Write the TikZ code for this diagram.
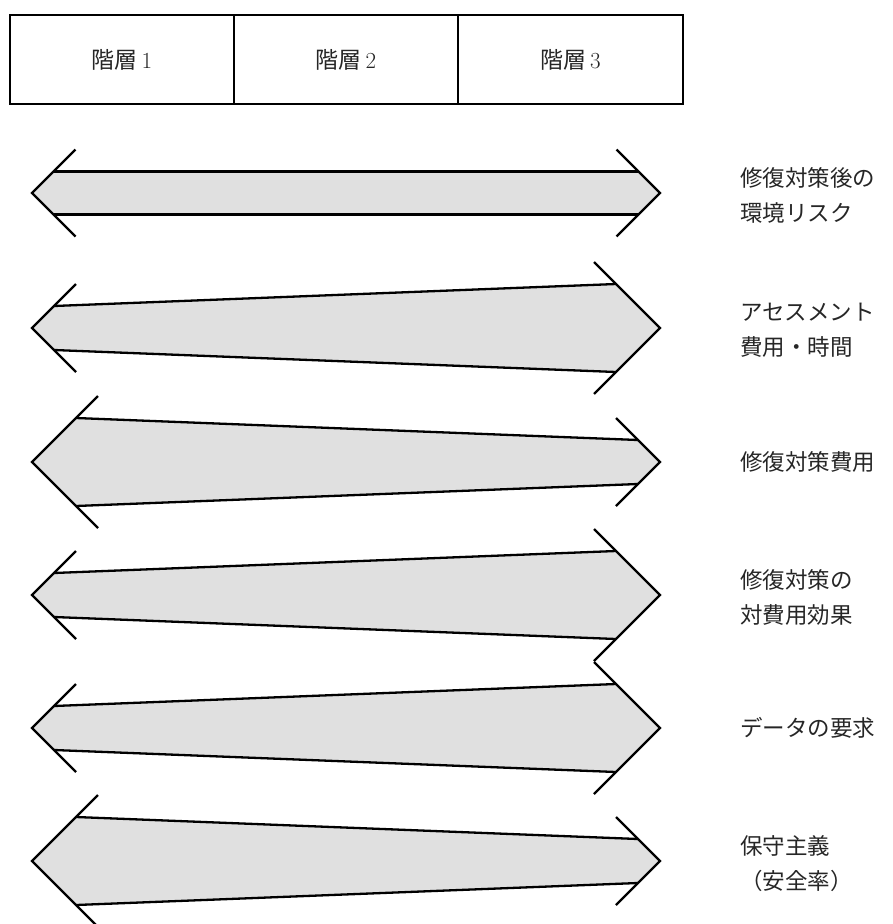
\documentclass[tikz,border=0pt]{standalone}
\usepackage{fontspec}
\newfontfamily\cjk{Noto Sans CJK JP}
\begin{document}
\begin{tikzpicture}[x=1pt,y=-1pt,
  cell/.style={draw=black,line width=2.2pt,minimum width=224pt,minimum height=89pt,inner sep=0pt,font=\fontsize{23}{26}\selectfont,text=black!85},
  lbl/.style={anchor=west,align=left,inner sep=0pt,font=\cjk\fontsize{22.5}{35}\selectfont,text=black!85},
  shaftfill/.style={fill=black!12},
  edge/.style={line width=2.3pt,line join=miter,line cap=butt}]
\useasboundingbox (0,0) rectangle (892,924);
% header
\node[cell] (h1) at (122,59.5) {{\cjk 階層}\,1};
\node[cell] (h2) at (346,59.5) {{\cjk 階層}\,2};
\node[cell,minimum width=225pt] (h3) at (570.5,59.5) {{\cjk 階層}\,3};
% arrows: #1 centre y, #2 left half width, #3 right half width
\newcommand\dblarr[3]{%
  \fill[shaftfill] (32,#1) -- (32+#2,#1-#2) -- (660-#3,#1-#3) -- (660,#1)
     -- (660-#3,#1+#3) -- (32+#2,#1+#2) -- cycle;
  \draw[edge] (32+#2,#1-#2) -- (660-#3,#1-#3);
  \draw[edge] (32+#2,#1+#2) -- (660-#3,#1+#3);
  \draw[edge] (32+#2+22,#1-#2-22) -- (32,#1) -- (32+#2+22,#1+#2+22);
  \draw[edge] (660-#3-22,#1-#3-22) -- (660,#1) -- (660-#3-22,#1+#3+22);
}
\dblarr{193}{21.5}{21.5}
\dblarr{328}{22}{44}
\dblarr{462}{44}{22}
\dblarr{595}{22}{44}
\dblarr{728}{22}{44}
\dblarr{861}{44}{22}
% labels
\node[lbl] (l1) at (740,195.5) {修復対策後の\\環境リスク};
\node[lbl] (l2) at (740,330.5) {アセスメント\\費用・時間};
\node[lbl] (l3) at (740,462) {修復対策費用};
\node[lbl] (l4) at (740,597) {修復対策の\\対費用効果};
\node[lbl] (l5) at (740,728) {データの要求};
\node[lbl] (l6) at (740,864) {保守主義\\（安全率）};
\end{tikzpicture}
\end{document}
